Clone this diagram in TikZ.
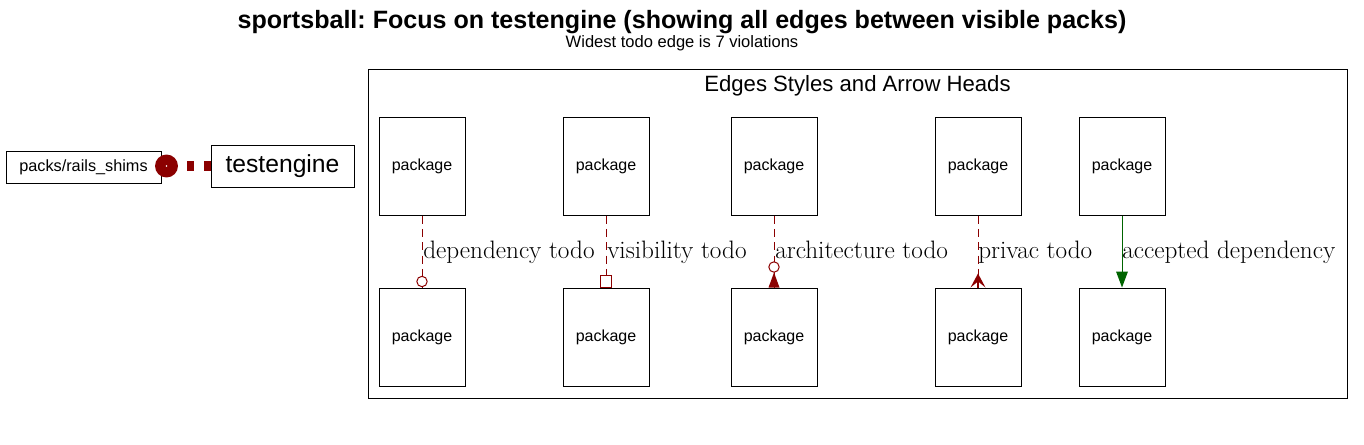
\documentclass[tikz,border=0pt]{standalone}
\usepackage{fontspec}
\setsansfont{Liberation Sans}
\usetikzlibrary{calc}
\definecolor{edgered}{HTML}{8B0000}
\definecolor{edgegreen}{HTML}{006400}
\frenchspacing
\begin{document}
\begin{tikzpicture}[x=0.75pt,y=-0.75pt,
  pkg/.style={draw=black,line width=0.75pt,minimum width=64.5pt,minimum height=73.5pt,inner sep=0pt,font=\sffamily\fontsize{12}{14}\selectfont},
  todo/.style={draw=edgered,line width=0.75pt,dash pattern=on 6pt off 4pt},
  elabel/.style={anchor=base west,inner sep=0pt,font=\fontsize{18.9}{22}\selectfont},
  headline/.style={draw=edgered,line width=0.75pt,fill=white}
]
\useasboundingbox (0,0) rectangle (1364,444);
% title
\node[font=\sffamily\bfseries\fontsize{18.8}{22}\selectfont,inner sep=0pt] (title) at (682,22) {sportsball: Focus on testengine (showing all edges between visible packs)};
\node[font=\sffamily\fontsize{12.4}{14}\selectfont,inner sep=0pt] (subtitle) at (682,43) {Widest todo edge is 7 violations};
% left part
\node[draw,line width=0.75pt,minimum width=116.25pt,minimum height=24pt,inner sep=0pt,font=\sffamily\fontsize{12.2}{14}\selectfont] (shims) at (83.5,167) {packs/rails\_shims};
\node[draw,line width=0.75pt,minimum width=107.25pt,minimum height=31.5pt,inner sep=0pt,font=\sffamily\fontsize{18.5}{22}\selectfont] (testengine) at (282.5,166) {testengine};
\coordinate (dot) at (166.5,166);
\draw[edgered,line width=7.5pt,dash pattern=on 5.25pt off 7.5pt] (testengine.west) -- ($(dot)+(11.5,0)$);
\fill[edgered] (dot) circle[radius=8.6pt];
\fill[white] (dot) circle[radius=0.7pt];
% cluster
\draw[line width=0.75pt] (368,69) rectangle (1347,398);
\node[font=\sffamily\fontsize{16.6}{20}\selectfont,inner sep=0pt] (clusterlabel) at (857.5,86) {Edges Styles and Arrow Heads};
% packages
\foreach \n/\x in {1/422,2/606,3/774,4/978,5/1122}{
  \node[pkg] (t\n) at (\x,166) {package};
  \node[pkg] (b\n) at (\x,337) {package};
}
% dependency todo
\draw[todo] (t1.south) -- (b1.north);
\draw[headline] ($(b1.north)+(0,-6)$) circle[radius=3.9pt];
\node[elabel] (l1) at (423,258) {dependency todo};
% visibility todo
\draw[todo] (t2.south) -- (b2.north);
\draw[headline] ($(b2.north)+(-5.5,0)$) rectangle ($(b2.north)+(5.5,-12)$);
\node[elabel] (l2) at (607,258) {visibility todo};
% architecture todo
\draw[todo] (t3.south) -- (b3.north);
\fill[edgered] ($(b3.north)+(0,-15)$) -- ($(b3.north)+(-5.5,0)$) -- ($(b3.north)+(5.5,0)$) -- cycle;
\draw[headline] ($(b3.north)+(0,-20.5)$) circle[radius=3.9pt];
\node[elabel] (l3) at (775,258) {architecture todo};
% privac todo
\draw[todo] (t4.south) -- (b4.north);
\fill[edgered] ($(b4.north)+(0,-14)$) -- ($(b4.north)+(-7.5,0)$) -- ($(b4.north)+(0,-6)$) -- ($(b4.north)+(7.5,0)$) -- cycle;
\draw[edgered,line width=1pt] ($(b4.north)+(0,-8)$) -- (b4.north);
\node[elabel] (l4) at (978,258) {privac todo};
% accepted dependency
\draw[edgegreen,line width=0.75pt] (t5.south) -- ($(b5.north)+(0,-14)$);
\fill[edgegreen] (b5.north) -- ($(b5.north)+(-6,-16)$) -- ($(b5.north)+(6,-16)$) -- cycle;
\node[elabel] (l5) at (1122,258) {accepted dependency};
\end{tikzpicture}
\end{document}
